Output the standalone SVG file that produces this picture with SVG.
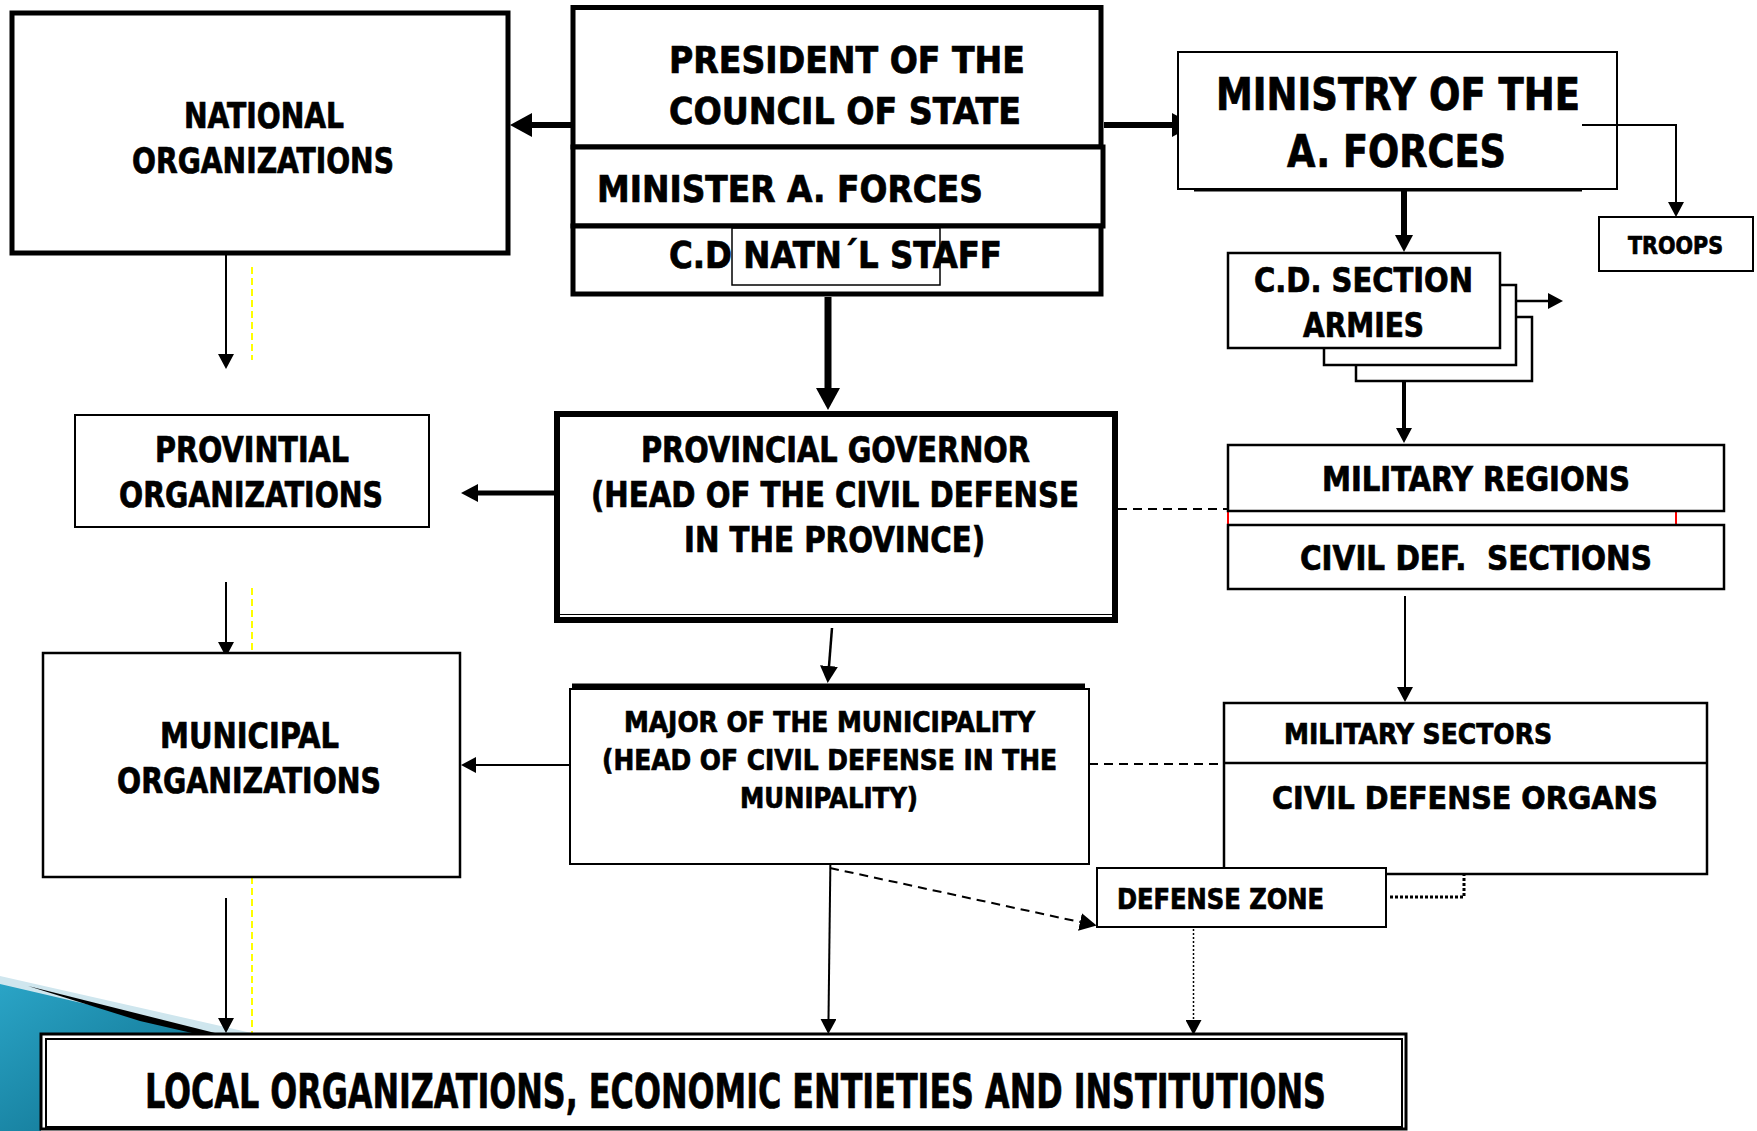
<svg xmlns="http://www.w3.org/2000/svg" width="1757" height="1131" viewBox="0 0 1757 1131">
<style>
.t{font-family:"Liberation Sans Narrow","DejaVu Sans Condensed","Liberation Sans",sans-serif;font-weight:bold;fill:#000;stroke:#000;stroke-width:0.7;text-anchor:middle}
.ts{text-anchor:start}
.box{fill:#fff;stroke:#000}
.ln{fill:none;stroke:#000}
.dash{fill:none;stroke:#000;stroke-width:2;stroke-dasharray:9 6}
.yel{fill:none;stroke:#ffff00;stroke-width:2;stroke-dasharray:7 4}
</style>
<defs>
<marker id="ahs" viewBox="0 -8 15 16" refX="0" refY="0" markerWidth="15" markerHeight="16" markerUnits="userSpaceOnUse" orient="auto"><path d="M0,-8 L15,0 L0,8 z" fill="#000"/></marker>
<marker id="ahm" viewBox="0 -9 17 18" refX="0" refY="0" markerWidth="17" markerHeight="18" markerUnits="userSpaceOnUse" orient="auto"><path d="M0,-9 L17,0 L0,9 z" fill="#000"/></marker>
<marker id="ahl" viewBox="0 -12 22 24" refX="0" refY="0" markerWidth="22" markerHeight="24" markerUnits="userSpaceOnUse" orient="auto"><path d="M0,-12 L22,0 L0,12 z" fill="#000"/></marker>
<linearGradient id="teal" x1="0" y1="0" x2="1" y2="1">
<stop offset="0" stop-color="#2aa4c6"/><stop offset="1" stop-color="#0c6b88"/>
</linearGradient>
</defs>
<rect width="1757" height="1131" fill="#fff"/>

<g id="deco">
<polygon points="0,976 256,1034 0,1034" fill="#cfe6ee"/>
<polygon points="0,984 215,1034 41,1034 41,1131 0,1131" fill="url(#teal)"/>
<polygon points="28,986 215,1033 205,1036 140,1021" fill="#000"/>
</g>

<g id="connectors">
<line class="ln" x1="571" y1="125" x2="532" y2="125" stroke-width="6" marker-end="url(#ahl)"/>
<line class="ln" x1="1104" y1="125" x2="1172" y2="125" stroke-width="6" marker-end="url(#ahl)"/>
<line class="ln" x1="828" y1="297" x2="828" y2="388" stroke-width="7" marker-end="url(#ahl)"/>
<line class="ln" x1="1404" y1="190" x2="1404" y2="235" stroke-width="6" marker-end="url(#ahm)"/>
<polyline class="ln" points="1582,125 1676,125 1676,202" stroke-width="2" marker-end="url(#ahs)"/>
<line class="ln" x1="1516" y1="301" x2="1548" y2="301" stroke-width="2.5" marker-end="url(#ahs)"/>
<line class="ln" x1="1404" y1="381" x2="1404" y2="428" stroke-width="4" marker-end="url(#ahs)"/>
<line class="ln" x1="554" y1="493" x2="478" y2="493" stroke-width="5" marker-end="url(#ahm)"/>
<line class="ln" x1="832" y1="628" x2="829" y2="666" stroke-width="2.5" marker-end="url(#ahm)"/>
<line class="dash" x1="1118" y1="509" x2="1228" y2="509"/>
<line class="ln" x1="1405" y1="596" x2="1405" y2="687" stroke-width="2" marker-end="url(#ahs)"/>
<line class="ln" x1="570" y1="765" x2="476" y2="765" stroke-width="1.8" marker-end="url(#ahs)"/>
<line class="dash" x1="1089" y1="764" x2="1224" y2="764" stroke-width="1.6"/>
<line class="ln" x1="830.5" y1="853" x2="828.5" y2="1019" stroke-width="2" marker-end="url(#ahs)"/>
<line class="dash" x1="830" y1="868" x2="1080" y2="922" stroke-width="2" marker-end="url(#ahm)"/>
<line class="ln" x1="1193.5" y1="913" x2="1193.5" y2="1020" stroke-width="1.5" stroke-dasharray="2 2" marker-end="url(#ahs)"/>
<polyline class="ln" points="1390,897 1464,897 1464,874" stroke-width="3" stroke-dasharray="3 2"/>
<line class="ln" x1="226" y1="248" x2="226" y2="354" stroke-width="2" marker-end="url(#ahs)"/>
<line class="ln" x1="226" y1="582" x2="226" y2="642" stroke-width="2" marker-end="url(#ahs)"/>
<line class="ln" x1="226" y1="898" x2="226" y2="1018" stroke-width="2" marker-end="url(#ahs)"/>
<line class="yel" x1="252" y1="267" x2="252" y2="360"/>
<line class="yel" x1="252" y1="588" x2="252" y2="652"/>
<line class="yel" x1="252" y1="877" x2="252" y2="1037"/>
<line x1="1228" y1="511" x2="1228" y2="525" stroke="#ff0000" stroke-width="2"/>
<line x1="1676" y1="511" x2="1676" y2="525" stroke="#ff0000" stroke-width="2"/>
</g>

<g id="national">
<rect class="box" x="12" y="13" width="496" height="240" stroke-width="5"/>
<text class="t" x="264" y="128" font-size="35" textLength="160" lengthAdjust="spacingAndGlyphs">NATIONAL</text>
<text class="t" x="263" y="173" font-size="35" textLength="262" lengthAdjust="spacingAndGlyphs">ORGANIZATIONS</text>
</g>

<g id="president">
<rect class="box" x="573" y="7.5" width="528" height="139.5" stroke-width="5"/>
<text class="t" x="847" y="73" font-size="37" textLength="356" lengthAdjust="spacingAndGlyphs">PRESIDENT OF THE</text>
<text class="t" x="845" y="124" font-size="37" textLength="352" lengthAdjust="spacingAndGlyphs">COUNCIL OF STATE</text>
</g>
<g id="minister">
<rect class="box" x="573" y="147" width="530" height="79" stroke-width="5"/>
<text class="t ts" x="597" y="202" font-size="37" textLength="386" lengthAdjust="spacingAndGlyphs">MINISTER A. FORCES</text>
</g>
<g id="cd-staff">
<rect class="box" x="573" y="226" width="528" height="68" stroke-width="5"/>
<rect x="732" y="228" width="208" height="57" fill="none" stroke="#000" stroke-width="1.5"/>
<text class="t ts" x="669" y="268" font-size="37" textLength="333" lengthAdjust="spacingAndGlyphs">C.D NATN´L STAFF</text>
</g>

<g id="ministry">
<rect class="box" x="1178" y="52" width="439" height="137" stroke-width="2"/>
<line class="ln" x1="1194" y1="190" x2="1582" y2="190" stroke-width="3"/>
<text class="t" x="1398" y="110" font-size="44" textLength="364" lengthAdjust="spacingAndGlyphs">MINISTRY OF THE</text>
<text class="t" x="1396.5" y="167" font-size="44" textLength="219" lengthAdjust="spacingAndGlyphs">A. FORCES</text>
<line class="ln" x1="1582" y1="125" x2="1617" y2="125" stroke-width="2"/>
</g>

<g id="troops">
<rect class="box" x="1599" y="217" width="154" height="54" stroke-width="2"/>
<text class="t" x="1675.5" y="254" font-size="24" textLength="95" lengthAdjust="spacingAndGlyphs">TROOPS</text>
</g>

<g id="cd-section">
<rect class="box" x="1356" y="317" width="176" height="64" stroke-width="2.5"/>
<rect class="box" x="1324" y="285" width="192" height="80" stroke-width="2.5"/>
<rect class="box" x="1228" y="253" width="272" height="95" stroke-width="2.5"/>
<text class="t" x="1363.5" y="292" font-size="33" textLength="219" lengthAdjust="spacingAndGlyphs">C.D. SECTION</text>
<text class="t" x="1363.5" y="337" font-size="33" textLength="121" lengthAdjust="spacingAndGlyphs">ARMIES</text>
</g>

<g id="military-regions">
<rect class="box" x="1228" y="445" width="496" height="66" stroke-width="2.5"/>
<text class="t" x="1476" y="491" font-size="33" textLength="308" lengthAdjust="spacingAndGlyphs">MILITARY REGIONS</text>
</g>
<g id="civil-def-sections">
<rect class="box" x="1228" y="525" width="496" height="64" stroke-width="2.5"/>
<text class="t" x="1476" y="570" font-size="33" textLength="352" lengthAdjust="spacingAndGlyphs" xml:space="preserve">CIVIL DEF.  SECTIONS</text>
</g>

<g id="provintial">
<rect class="box" x="75" y="415" width="354" height="112" stroke-width="2"/>
<text class="t" x="252" y="462" font-size="35" textLength="194" lengthAdjust="spacingAndGlyphs">PROVINTIAL</text>
<text class="t" x="251" y="507" font-size="35" textLength="264" lengthAdjust="spacingAndGlyphs">ORGANIZATIONS</text>
</g>

<g id="provincial-governor">
<rect class="box" x="557" y="414" width="558" height="206" stroke-width="6"/>
<line class="ln" x1="560" y1="614.5" x2="1112" y2="614.5" stroke-width="1.2"/>
<text class="t" x="835.5" y="462" font-size="35" textLength="389" lengthAdjust="spacingAndGlyphs">PROVINCIAL GOVERNOR</text>
<text class="t" x="835" y="507" font-size="35" textLength="488" lengthAdjust="spacingAndGlyphs">(HEAD OF THE CIVIL DEFENSE</text>
<text class="t" x="834.5" y="552" font-size="35" textLength="301" lengthAdjust="spacingAndGlyphs">IN THE PROVINCE)</text>
</g>

<g id="municipal">
<rect class="box" x="43" y="653" width="417" height="224" stroke-width="2.5"/>
<text class="t" x="249.5" y="748" font-size="35" textLength="179" lengthAdjust="spacingAndGlyphs">MUNICIPAL</text>
<text class="t" x="249" y="793" font-size="35" textLength="264" lengthAdjust="spacingAndGlyphs">ORGANIZATIONS</text>
</g>

<g id="major">
<rect class="box" x="570" y="689" width="519" height="175" stroke-width="2"/>
<line class="ln" x1="572" y1="686" x2="1085" y2="686" stroke-width="5"/>
<text class="t" x="829.5" y="732" font-size="28" textLength="411" lengthAdjust="spacingAndGlyphs">MAJOR OF THE MUNICIPALITY</text>
<text class="t" x="829.5" y="770" font-size="28" textLength="455" lengthAdjust="spacingAndGlyphs">(HEAD OF CIVIL DEFENSE IN THE</text>
<text class="t" x="829" y="808" font-size="28" textLength="178" lengthAdjust="spacingAndGlyphs">MUNIPALITY)</text>
</g>

<g id="military-sectors">
<rect class="box" x="1224" y="703" width="483" height="171" stroke-width="2.5"/>
<line class="ln" x1="1224" y1="763" x2="1707" y2="763" stroke-width="2.5"/>
<text class="t ts" x="1284" y="744" font-size="29" textLength="268" lengthAdjust="spacingAndGlyphs">MILITARY SECTORS</text>
<text class="t" x="1465" y="809" font-size="32" textLength="386" lengthAdjust="spacingAndGlyphs">CIVIL DEFENSE ORGANS</text>
</g>

<g id="defense-zone">
<rect class="box" x="1097" y="868" width="289" height="59" stroke-width="2"/>
<text class="t ts" x="1117" y="909" font-size="28" textLength="207" lengthAdjust="spacingAndGlyphs">DEFENSE ZONE</text>
</g>

<g id="local">
<rect class="box" x="41" y="1034" width="1365" height="95" stroke-width="3"/>
<rect x="46" y="1039" width="1356" height="88" fill="none" stroke="#000" stroke-width="2"/>
<text class="t" x="735.5" y="1108" font-size="48" textLength="1181" lengthAdjust="spacingAndGlyphs">LOCAL ORGANIZATIONS, ECONOMIC ENTIETIES AND INSTITUTIONS</text>
</g>
</svg>
